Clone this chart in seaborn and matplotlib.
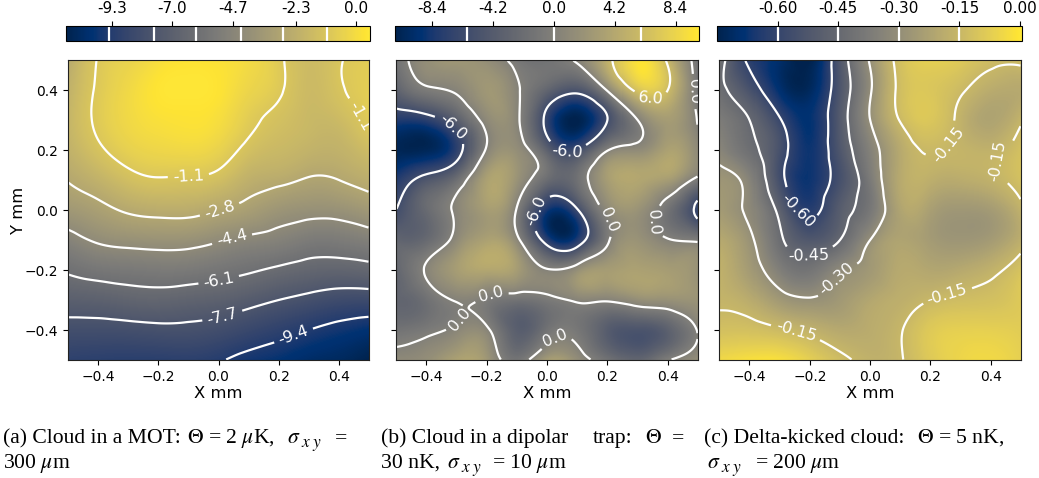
import numpy as np
import pandas as pd
import matplotlib
matplotlib.use("Agg")
import matplotlib.pyplot as plt
import matplotlib.tri as mtri
import seaborn as sns

plt.rcParams['mathtext.fontset'] = 'stix'
plt.rcParams['contour.negative_linestyle'] = 'solid'

# node positions of the hand-read grids (mm)
grid_x = [-0.5, -0.4, -0.3, -0.2, -0.1, 0.0, 0.1, 0.2, 0.3, 0.4, 0.5]
grid_y = [0.5, 0.4, 0.3, 0.2, 0.1, 0.0, -0.1, -0.2, -0.3, -0.4, -0.5]

# rows run from y=+0.5 to y=-0.5, columns from x=-0.5 to x=+0.5
mot_values = [
    [-2.6, -1.05, -0.5, 0.05, 0.3, 0.2, -0.1, -0.9, -1.65, -1.2, -0.8],
    [-2.2, -0.95, -0.2, 0.35, 0.45, 0.3, -0.35, -0.95, -1.7, -1.25, -0.7],
    [-2.0, -0.9, -0.2, 0.15, 0.25, 0.05, -0.8, -1.4, -1.8, -1.7, -0.85],
    [-2.2, -1.3, -0.6, -0.3, -0.2, -0.5, -1.4, -1.8, -2.1, -2.15, -1.6],
    [-2.75, -2.15, -1.5, -1.2, -1.25, -1.5, -2.25, -2.55, -2.9, -2.8, -2.4],
    [-3.6, -3.15, -2.65, -2.45, -2.45, -2.8, -3.23, -3.75, -4.0, -3.95, -3.55],
    [-4.85, -4.25, -4.0, -3.9, -3.95, -4.3, -4.65, -4.9, -5.3, -5.3, -5.0],
    [-5.95, -5.6, -5.45, -5.35, -5.4, -5.65, -5.95, -6.3, -6.6, -6.7, -6.55],
    [-7.05, -6.95, -6.75, -6.65, -6.8, -6.95, -7.3, -7.7, -8.05, -8.35, -8.4],
    [-8.15, -8.15, -8.1, -8.0, -8.0, -8.2, -8.6, -9.0, -9.4, -9.75, -10.05],
    [-9.0, -9.1, -9.15, -9.15, -9.1, -9.3, -9.75, -10.0, -10.4, -10.6, -11.05],
]
dipole_values = [
    [-1.5, 1.5, 2.5, 1.5, -0.8, -1.5, 0.4, 5.0, 9.5, 5.5, -1.5],
    [-3.5, -0.6, 0.4, 2.5, 0.4, -3.0, -5.0, 0.3, 6.8, 6.0, -1.2],
    [-8.0, -7.5, -4.0, 1.0, 0.5, -7.0, -11.0, -6.0, 0.0, 3.0, -0.2],
    [-10.5, -10.5, -7.5, 0.3, 1.5, -3.5, -6.0, -0.2, 1.2, 3.5, 1.0],
    [-8.0, -4.8, -2.0, 3.5, 2.0, -2.2, -1.8, 3.0, 4.0, 3.0, -0.8],
    [-6.0, -2.5, 0.5, 3.0, -0.2, -8.5, -6.3, 0.8, 2.0, -1.5, -7.0],
    [-3.0, -2.5, 1.0, 3.5, 0.8, -7.5, -8.0, -0.5, 2.0, 0.2, -0.5],
    [-3.0, 0.3, 3.0, 4.0, 3.0, 0.2, 1.5, 3.0, 3.5, 3.0, 1.8],
    [-3.0, -1.8, 0.2, -0.5, -1.5, -0.8, 0.4, 0.3, 1.5, 1.8, 2.0],
    [-1.5, -0.7, 0.6, 0.5, -3.8, -1.5, -1.0, -4.0, -5.0, -3.5, 0.2],
    [1.0, 1.5, 3.5, 2.5, -1.2, 3.0, 1.5, -1.5, -3.0, -0.2, 1.5],
]
kicked_values = [
    [-0.39, -0.62, -0.70, -0.75, -0.52, -0.29, -0.12, -0.07, -0.09, -0.13, -0.13],
    [-0.42, -0.54, -0.69, -0.72, -0.53, -0.31, -0.13, -0.10, -0.14, -0.19, -0.20],
    [-0.37, -0.45, -0.59, -0.68, -0.51, -0.30, -0.145, -0.10, -0.17, -0.22, -0.16],
    [-0.33, -0.42, -0.55, -0.67, -0.525, -0.35, -0.20, -0.145, -0.16, -0.17, -0.12],
    [-0.27, -0.34, -0.56, -0.67, -0.55, -0.38, -0.20, -0.18, -0.19, -0.17, -0.12],
    [-0.25, -0.32, -0.48, -0.63, -0.50, -0.39, -0.22, -0.235, -0.265, -0.25, -0.17],
    [-0.20, -0.28, -0.43, -0.52, -0.45, -0.30, -0.22, -0.25, -0.27, -0.25, -0.18],
    [-0.17, -0.25, -0.36, -0.40, -0.32, -0.26, -0.20, -0.21, -0.20, -0.17, -0.11],
    [-0.16, -0.19, -0.26, -0.29, -0.26, -0.21, -0.18, -0.15, -0.13, -0.12, -0.09],
    [-0.12, -0.12, -0.14, -0.17, -0.20, -0.19, -0.155, -0.09, -0.07, -0.07, -0.08],
    [-0.04, -0.02, -0.02, -0.07, -0.13, -0.17, -0.155, -0.09, -0.05, -0.04, -0.07],
]

mot_levels = [-9.4, -7.7, -6.1, -4.4, -2.8, -1.1]
dipole_levels = [-6.0, 0.0, 6.0]
kicked_levels = [-0.60, -0.45, -0.30, -0.15]

mot_ticks = [-9.3, -7.0, -4.7, -2.3, 0.0]
dipole_ticks = [-8.4, -4.2, 0.0, 4.2, 8.4]
kicked_ticks = [-0.60, -0.45, -0.30, -0.15, 0.00]

axis_ticks = [-0.4, -0.2, 0.0, 0.2, 0.4]

mot_labels = [(-0.1, 0.13), (0.458, 0.307), (0.0, 0.014), (0.045, -0.097), (0.0, -0.23),
              (0.01, -0.343), (0.25, -0.42)]
dipole_labels = [(-0.31, 0.28), (0.07, 0.229), (-0.005, -0.02), (0.343, 0.368),
                 (0.475, 0.395), (0.215, -0.027), (0.345, -0.04), (-0.188, -0.266),
                 (-0.287, -0.365), (0.028, -0.427)]
kicked_labels = [(-0.24, 0.0), (-0.2, -0.17), (-0.09, -0.25), (0.249, 0.225),
                 (0.393, 0.179), (0.254, -0.276), (-0.243, -0.393)]

W, H = 1039, 478
N = 300
fig = plt.figure(figsize=(W / 100, H / 100), dpi=100)


def px_axes(x0, x1, y0, y1):
    return fig.add_axes([x0 / W, 1 - y1 / H, (x1 - x0) / W, (y1 - y0) / H])


def panel(values, levels, ticks, vmin, vmax, box, cbox, manual, fmt, ylabel=False):
    ax = px_axes(*box)
    cax = px_axes(*cbox)
    gx, gy = np.meshgrid(grid_x, grid_y)
    tri = mtri.Triangulation(gx.ravel(), gy.ravel())
    smooth = mtri.CubicTriInterpolator(tri, np.array(values, float).ravel(), kind='min_E')
    fx = -0.5 + (np.arange(N) + 0.5) / N
    fy = 0.5 - (np.arange(N) + 0.5) / N
    FX, FY = np.meshgrid(fx, fy)
    field = pd.DataFrame(np.ma.filled(smooth(FX, FY), np.nan))
    sns.heatmap(field, ax=ax, cbar_ax=cax, cmap='cividis', vmin=vmin, vmax=vmax,
                xticklabels=False, yticklabels=False,
                cbar_kws={'orientation': 'horizontal'})
    to_x = lambda v: (np.asarray(v) + 0.5) * N
    to_y = lambda v: (0.5 - np.asarray(v)) * N
    cs = ax.contour(to_x(FX), to_y(FY), field.values, levels=levels, colors='white',
                    linewidths=1.6)
    ax.clabel(cs, fmt=fmt, fontsize=11.5, inline=True, colors='white',
              manual=[(to_x(a), to_y(b)) for a, b in manual])
    for s in ax.spines.values():
        s.set_visible(True)
        s.set_linewidth(0.8)
        s.set_color('#222222')
    ax.set_xticks(to_x(axis_ticks))
    ax.set_xticklabels([f"{t:.1f}".replace('-', '\u2212') for t in axis_ticks], rotation=0)
    ax.set_yticks(to_y(axis_ticks))
    if ylabel:
        ax.set_yticklabels([f"{t:.1f}".replace('-', '\u2212') for t in axis_ticks], rotation=0)
        ax.set_ylabel('Y mm', fontsize=11.8, labelpad=-1)
    else:
        ax.set_yticklabels([])
    ax.tick_params(length=3.5, width=0.8, labelsize=10, left=True, bottom=True)
    ax.set_xlabel('X mm', fontsize=11.8, labelpad=2)
    cb = ax.collections[0].colorbar
    cb.outline.set_visible(True)
    cb.outline.set_linewidth(0.8)
    cb.add_lines(cs)
    cb.set_ticks(ticks)
    cb.set_ticklabels([fmt % t for t in ticks])
    cax.xaxis.set_ticks_position('top')
    cax.tick_params(length=3.5, width=0.8, labelsize=11)
    return ax


panel(mot_values, mot_levels, mot_ticks, -11.05, 0.5, (68, 369, 60, 360),
      (66, 369.5, 26, 41), mot_labels, '%.1f', ylabel=True)
panel(dipole_values, dipole_levels, dipole_ticks, -11.0, 10.0, (396, 698, 60, 360),
      (394.7, 698.7, 26, 41), dipole_labels, '%.1f')
panel(kicked_values, kicked_levels, kicked_ticks, -0.749, 0.004, (719.3, 1021, 60, 360),
      (717.3, 1021.7, 26, 41), kicked_labels, '%.2f')

captions = [
    (3, 443, r"(a) Cloud in a MOT:"), (187, 443, r"$\Theta$ = 2 $\mu$K,"),
    (335, 443, "="),
    (3, 468, r"300 $\mu$m"),
    (381, 443, r"(b) Cloud in a dipolar"), (593, 443, "trap:"),
    (645, 443, r"$\Theta$"), (672, 443, "="),
    (381, 468, "30 nK,"), (492, 468, r"= 10 $\mu$m"),
    (704, 443, "(c) Delta-kicked cloud:"), (917, 443, r"$\Theta$ = 5 nK,"),
    (755, 468, r"= 200 $\mu$m"),
]
sigma_spots = [(287, 443), (447, 468), (707, 468)]


def caption(x, y, s, size=15.6):
    fig.text(x / W, 1 - y / H, s, family='Liberation Serif', fontsize=size,
             ha='left', va='baseline', color='black')


for x, y, s in captions:
    caption(x, y, s)
for x, y in sigma_spots:
    caption(x, y, r"$\sigma$")
    caption(x + 14, y + 4, r"$x\;y$", size=12.5)

fig.savefig('out.png', dpi=100)
